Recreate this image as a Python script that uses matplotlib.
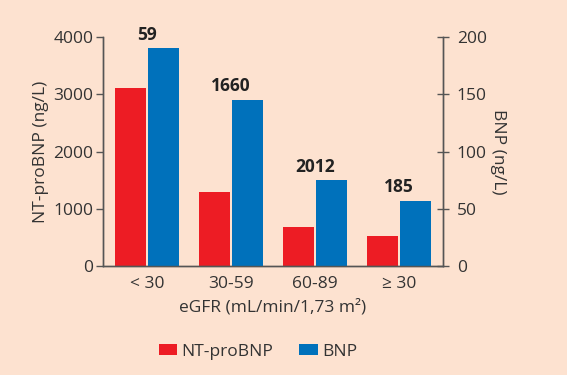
import numpy as np
import matplotlib.pyplot as plt

categories = ['< 30', '30-59', '60-89', '≥ 30']
ntprobnp = [3110, 1300, 680, 520]
bnp = [190, 145, 75, 57]
counts = ['59', '1660', '2012', '185']

bg = '#fde2d0'
red = '#ed1c24'
blue = '#0071bb'
dark = '#333333'

plt.rcParams['font.family'] = ['Open Sans', 'DejaVu Sans']
fs = 12.5

fig = plt.figure(figsize=(5.67, 3.75), dpi=100, facecolor=bg)
ax = fig.add_axes([103/567, 1-266/375, 340/567, 229/375])
ax.set_facecolor(bg)
ax2 = ax.twinx()

x = np.arange(len(categories))
w = 0.37
ax.bar(x - w/2 - 0.01, ntprobnp, w, color=red, label='NT-proBNP')
ax2.bar(x + w/2 + 0.01, bnp, w, color=blue, label='BNP')

ax.set_xlim(-0.52, 3.52)
ax.set_ylim(0, 4000)
ax2.set_ylim(0, 200)
ax.set_yticks([0, 1000, 2000, 3000, 4000])
ax2.set_yticks([0, 50, 100, 150, 200])
ax.set_xticks(x)
ax.set_xticklabels(categories)

# group sizes, centred over each pair of bars
for i, c in enumerate(counts):
    ax2.text(x[i], bnp[i] + 4, c, ha='center', va='bottom',
             fontsize=12.5, fontweight='bold', color='#222222')

for a in (ax, ax2):
    a.spines['top'].set_visible(False)
    for s in a.spines.values():
        s.set_color('#555555')
        s.set_linewidth(1.0)
    a.tick_params(colors='#555555', labelcolor=dark, labelsize=fs, width=1.0)
ax.tick_params(axis='x', length=0, pad=7)
ax.tick_params(axis='y', length=5, pad=2)
ax2.tick_params(axis='y', direction='inout', length=8, pad=6)

ax.set_ylabel('NT-proBNP (ng/L)', fontsize=fs, color=dark, labelpad=3)
ax2.set_ylabel('BNP (ng/L)', fontsize=fs, color=dark, rotation=270, labelpad=14)
ax.set_xlabel('eGFR (mL/min/1,73 m²)', fontsize=fs, color=dark, labelpad=5)

h1, l1 = ax.get_legend_handles_labels()
h2, l2 = ax2.get_legend_handles_labels()
fig.legend(h1 + h2, l1 + l2, loc='center', bbox_to_anchor=(258/567, 1-352/375),
           ncol=2, frameon=False, fontsize=fs, handlelength=1.05, handleheight=0.6,
           handletextpad=0.25, columnspacing=1.5, labelcolor=dark)

fig.savefig('out.png', dpi=100, facecolor=bg)
